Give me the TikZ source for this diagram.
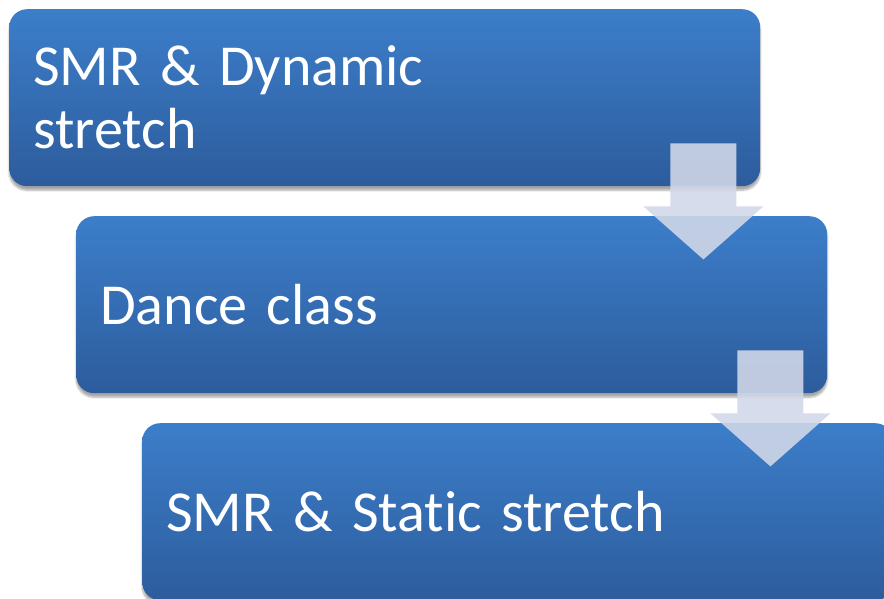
\documentclass[tikz,border=0pt]{standalone}
\usepackage{fontspec}
\setmainfont{Carlito}[Ligatures=NoCommon]
\usetikzlibrary{shadows.blur}

\definecolor{steptop}{HTML}{3C7ECA}
\definecolor{stepbot}{HTML}{2D5C9C}
\definecolor{arrowcol}{RGB}{209,216,232}

\tikzset{
    stepbox/.style={rectangle, rounded corners=18, anchor=north west,
        top color=steptop, bottom color=stepbot, draw=none,
        minimum width=751, minimum height=177, text width=703,
        inner xsep=24, inner ysep=0, align=left, text=white,
        font=\fontsize{58}{63}\selectfont,
        blur shadow={shadow xshift=0pt, shadow yshift=-4pt,
            shadow blur steps=6, shadow opacity=35}},
    arrowfill/.style={fill=arrowcol, fill opacity=0.89}
}

\begin{document}
\begin{tikzpicture}[x=1pt, y=-1pt]
    \clip (0,0) rectangle (884,599);
    % The three steps
    \node[stepbox] (dyn) at (9,9) {SMR \& Dynamic\\stretch};
    \node[stepbox] (dance) at (76,216) {Dance class};
    \node[stepbox] (static) at (142,423) {SMR \& Static stretch};
    % Block arrows from each step to the next
    \foreach \b in {dyn, dance} {
        \fill[arrowfill, shift={(\b.south east)}]
            (-90,-43) -- (-24,-43) -- (-24,20) -- (3,20) -- (-57,73)
            -- (-117,20) -- (-90,20) -- cycle;
    }
\end{tikzpicture}
\end{document}
